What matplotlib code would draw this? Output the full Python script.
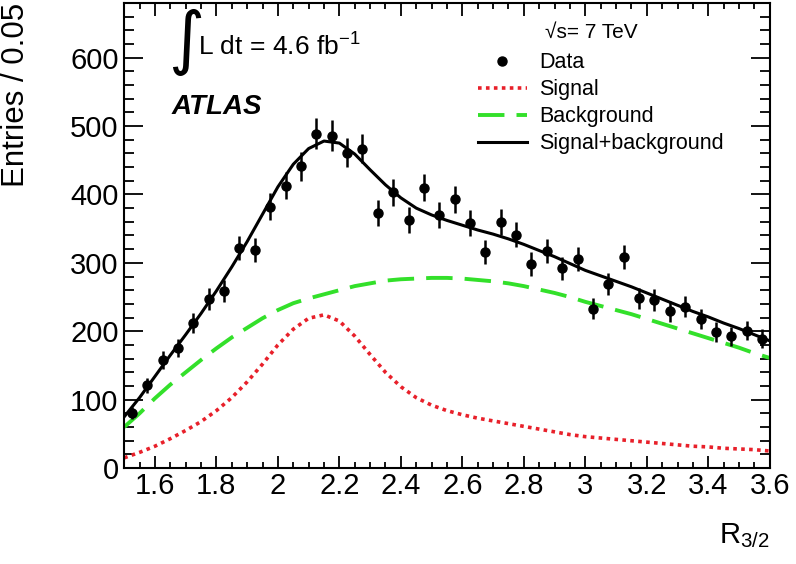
import numpy as np
import matplotlib
matplotlib.use("Agg")
import matplotlib.pyplot as plt
from matplotlib.lines import Line2D
from matplotlib.ticker import MultipleLocator

plt.rcParams['font.family'] = ['Liberation Sans', 'DejaVu Sans']
plt.rcParams['mathtext.fontset'] = 'custom'
plt.rcParams['mathtext.rm'] = 'Liberation Sans'
plt.rcParams['mathtext.it'] = 'Liberation Sans:italic'
plt.rcParams['mathtext.default'] = 'regular'

# data points (bin centres, width 0.05)
bin_centres = np.round(np.arange(1.525, 3.6, 0.05), 3)
entries = [81, 121, 158, 176, 212, 247, 259, 322, 319, 382, 413, 441,
           489, 486, 461, 467, 373, 403, 362, 410, 370, 393, 358, 316,
           360, 341, 298, 317, 292, 306, 233, 269, 309, 248, 246, 229,
           236, 218, 199, 193, 201, 189]

# fit curves
curve_x = [1.50, 1.55, 1.60, 1.65, 1.70, 1.75, 1.80, 1.85, 1.90, 1.95,
           2.00, 2.05, 2.10, 2.15, 2.20, 2.25, 2.30, 2.35, 2.40, 2.45,
           2.50, 2.55, 2.60, 2.65, 2.70, 2.75, 2.80, 2.85, 2.90, 2.95,
           3.00, 3.05, 3.10, 3.15, 3.20, 3.25, 3.30, 3.35, 3.40, 3.45,
           3.50, 3.55, 3.60]
signal = [15, 23, 32, 43, 55, 68, 84, 103, 126, 152,
          180, 203, 219, 224, 215, 193, 166, 140, 119, 103,
          92, 84, 78, 73, 69, 65, 61, 57, 53, 49,
          46, 44, 42, 40, 38, 36, 34, 32, 31, 29,
          28, 27, 25]
background = [60, 80, 102, 122, 140, 158, 175, 191, 205, 219,
              231, 241, 248, 254, 260, 266, 270, 274, 276, 277,
              278, 278, 277, 275, 273, 270, 266, 261, 256, 250,
              243, 237, 231, 225, 218, 211, 204, 197, 190, 183,
              176, 168, 161]
total = np.array(signal) + np.array(background)

fig = plt.figure(figsize=(7.96, 5.64), dpi=100)
ax = fig.add_axes([0.156, 0.170, 0.811, 0.825])

ax.plot(curve_x, signal, color='#e8202a', lw=2.6, linestyle=(0, (1, 1.2)))
ax.plot(curve_x, background, color='#33e02a', lw=2.8, linestyle=(0, (6.8, 3.1)))
ax.plot(curve_x, total, color='black', lw=2.2)
ax.errorbar(bin_centres, entries, yerr=np.sqrt(entries), fmt='o', color='black',
            ms=6.5, elinewidth=1.8, capsize=0, zorder=5)

ax.set_xlim(1.5, 3.6)
ax.set_ylim(0, 680)
ax.xaxis.set_minor_locator(MultipleLocator(0.05))
ax.yaxis.set_major_locator(MultipleLocator(100))
ax.yaxis.set_minor_locator(MultipleLocator(20))
ax.set_xticks([1.6, 1.8, 2.0, 2.2, 2.4, 2.6, 2.8, 3.0, 3.2, 3.4, 3.6])
ax.set_xticklabels(['1.6', '1.8', '2', '2.2', '2.4', '2.6', '2.8', '3', '3.2', '3.4', '3.6'])
ax.tick_params(which='both', direction='in', top=True, right=True, width=1.3, labelsize=21)
ax.tick_params(axis='x', which='major', length=9, pad=3)
ax.tick_params(axis='x', which='minor', length=4.5)
ax.tick_params(axis='y', which='major', length=14, pad=4)
ax.tick_params(axis='y', which='minor', length=7)
for s in ax.spines.values():
    s.set_linewidth(1.5)

ax.set_ylabel("Entries / 0.05", fontsize=22.5, loc='top')
ax.yaxis.set_label_coords(-0.145, 1.0)
ax.set_xlabel("R$_{3/2}$", fontsize=21, loc='right')
ax.xaxis.set_label_coords(1.0, -0.115)

# annotations
fig.text(168 / 796, 1 - 42 / 564, "\u222b", fontsize=50, family='DejaVu Sans',
         va='center', ha='left')
fig.text(198 / 796, 1 - 56 / 564, "L dt = 4.6 fb$^{-1}$", fontsize=19, va='baseline')
fig.text(172 / 796, 1 - 114 / 564, "ATLAS", fontsize=20, fontweight='bold',
         style='italic', va='baseline')
fig.text(545 / 796, 1 - 38 / 564, "\u221as= 7 TeV", fontsize=15, va='baseline')

handles = [Line2D([], [], marker='o', color='black', ls='none', ms=6.5),
           Line2D([], [], color='#e8202a', lw=2.6, linestyle=(0, (1, 1.2))),
           Line2D([], [], color='#33e02a', lw=2.8, linestyle=(0, (6.8, 3.1))),
           Line2D([], [], color='black', lw=2.2)]
labels = ["Data", "Signal", "Background", "Signal+background"]
ax.legend(handles, labels, loc='upper left', bbox_to_anchor=(0.534, 0.912),
          frameon=False, fontsize=15.5, handlelength=2.3, handletextpad=0.55,
          labelspacing=0.28, borderaxespad=0)

fig.savefig("out.png", dpi=100)
